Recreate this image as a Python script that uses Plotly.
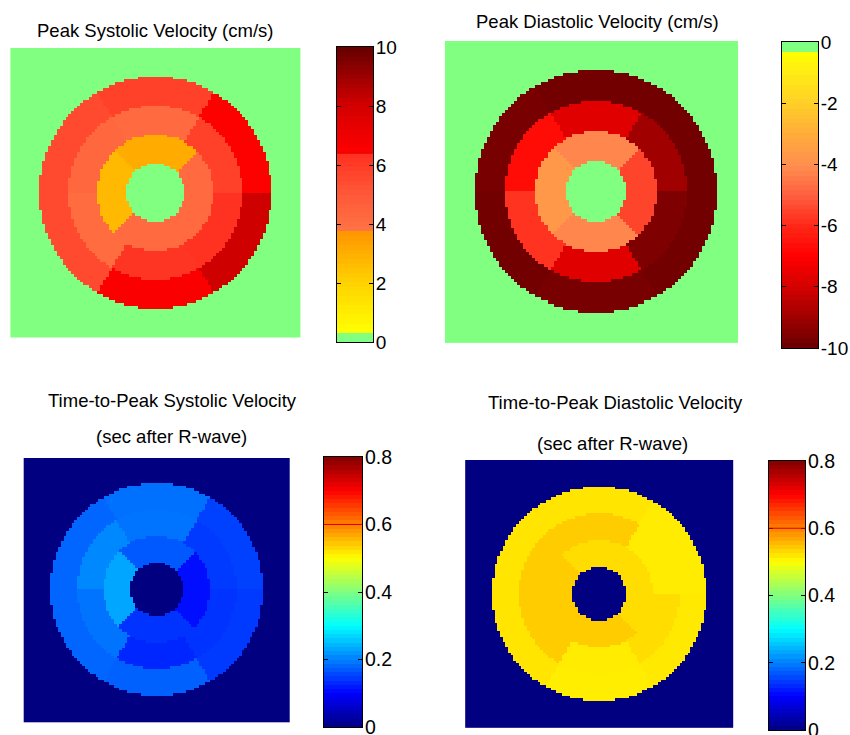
import numpy as np
import plotly.graph_objects as go

W, H = 850, 735

# ---------------- data (AHA 16-segment bullseye values) ----------------
# 6-sector rings ordered counter-clockwise from the right:
#   [0-60deg, 60-120deg, 120-180deg, 180-240deg, 240-300deg, 300-360deg]
# 4-sector apical ring ordered: [right, top, left, bottom]
titles = [
    ["Peak Systolic Velocity (cm/s)"],
    ["Peak Diastolic Velocity (cm/s)"],
    ["Time-to-Peak Systolic Velocity", "(sec after R-wave)"],
    ["Time-to-Peak Diastolic Velocity", "(sec after R-wave)"],
]

ps_basal = [6.5, 5.8, 5.5, 5.5, 6.6, 8.1]
ps_mid = [5.8, 4.2, 4.3, 4.1, 6.2, 6.35]
ps_apical = [4.2, 3.1, 2.7, 4.2]

pd_basal = [-9.8, -9.8, -9.7, -9.8, -9.7, -9.8]
pd_mid = [-9.0, -7.7, -6.7, -5.8, -7.7, -9.6]
pd_apical = [-5.5, -4.2, -3.7, -4.2]

tps_basal = [0.15, 0.188, 0.18, 0.18, 0.176, 0.145]
tps_mid = [0.145, 0.19, 0.207, 0.19, 0.13, 0.14]
tps_apical = [0.11, 0.17, 0.23, 0.14]

tpd_basal = [0.515, 0.52, 0.52, 0.52, 0.513, 0.517]
tpd_mid = [0.515, 0.54, 0.54, 0.54, 0.515, 0.527]
tpd_apical = [0.527, 0.527, 0.54, 0.54]

backgrounds = [0, 0, 0, 0]
cb_ranges = [(0, 10), (-10, 0), (0, 0.8), (0, 0.8)]
cb_ticks = [[0, 2, 4, 6, 8, 10], [-10, -8, -6, -4, -2, 0],
            [0, 0.2, 0.4, 0.6, 0.8], [0, 0.2, 0.4, 0.6, 0.8]]
cb_ticktext = [["0", "2", "4", "6", "8", "10"], ["-10", "-8", "-6", "-4", "-2", "0"],
               ["0", "0.2", "0.4", "0.6", "0.8"], ["0", "0.2", "0.4", "0.6", "0.8"]]
cb_marks = [6.4, None, 0.6, 0.6]

# ---------------- colour maps ----------------
def scale_from_values(stops, vmin, vmax):
    return [[(v - vmin) / (vmax - vmin), c] for v, c in stops]

cmap_sys = scale_from_values([
    (0, "#80FF80"), (0.34, "#80FF80"), (0.35, "#FFFF00"), (2.0, "#FFD200"),
    (3.7, "#FF9600"), (3.72, "#FF7444"), (5.0, "#FF5838"), (6.38, "#FF3020"),
    (6.42, "#FF0000"), (8.0, "#D40000"), (10, "#640000")], 0, 10)
cmap_dia = scale_from_values([
    (-10, "#680000"), (-9, "#A00000"), (-8, "#D40000"), (-7, "#FF0000"),
    (-6, "#FF2818"), (-5, "#FF6040"), (-4, "#FF9050"), (-3, "#FFAC38"),
    (-2, "#FFD028"), (-1, "#FFEC14"), (-0.31, "#FFFF00"), (-0.3, "#80FF80"),
    (0, "#80FF80")], -10, 0)
jet = [[0, "rgb(0,0,128)"], [0.125, "rgb(0,0,255)"], [0.375, "rgb(0,255,255)"],
       [0.625, "rgb(255,255,0)"], [0.875, "rgb(255,0,0)"], [1, "rgb(128,0,0)"]]
cmaps = [cmap_sys, cmap_dia, jet, jet]

# ---------------- bullseye geometry ----------------
N = 100
coords = np.arange(N) - (N - 1) / 2.0
ring_r = [10, 20, 30, 40]


def bullseye(basal, mid, apical, bg):
    X, Y = np.meshgrid(coords, coords)
    R = np.hypot(X, Y)
    A = np.degrees(np.arctan2(Y, X)) % 360
    six = (A // 60).astype(int) % 6
    four = (((A + 45) % 360) // 90).astype(int) % 4
    Z = np.full(R.shape, float(bg))
    m = (R >= ring_r[0]) & (R < ring_r[1])
    Z[m] = np.asarray(apical)[four[m]]
    m = (R >= ring_r[1]) & (R < ring_r[2])
    Z[m] = np.asarray(mid)[six[m]]
    m = (R >= ring_r[2]) & (R < ring_r[3])
    Z[m] = np.asarray(basal)[six[m]]
    return Z


panels = [
    bullseye(ps_basal, ps_mid, ps_apical, backgrounds[0]),
    bullseye(pd_basal, pd_mid, pd_apical, backgrounds[1]),
    bullseye(tps_basal, tps_mid, tps_apical, backgrounds[2]),
    bullseye(tpd_basal, tpd_mid, tpd_apical, backgrounds[3]),
]

# ---------------- layout geometry (pixels) ----------------
img_boxes = [(9, 48, 301, 339), (445, 41, 738, 345), (23, 458, 292, 724), (464, 460, 736, 729)]
img_centres = [(155.4, 192.5, 2.9), (596, 191.4, 3.03), (156.7, 589.3, 2.66), (599.2, 593.8, 2.68)]
cb_boxes = [(337, 47, 373, 342), (782, 42, 818, 348), (324, 457, 362, 727), (769, 461, 805, 730)]
title_pos = [[(155, 30)], [(597, 22)], [(172, 400), (171, 437)], [(615, 402), (612, 443)]]
tick_sizes = [19, 19, 19.5, 19.5]


def xdom(l, r):
    return [l / W, r / W]


def ydom(t, b):
    return [1 - b / H, 1 - t / H]


fig = go.Figure()
layout = dict(
    width=W, height=H, autosize=False, margin=dict(l=0, r=0, t=0, b=0, pad=0, autoexpand=False),
    paper_bgcolor="white", plot_bgcolor="white", showlegend=False,
    font=dict(family="Arial, Liberation Sans, sans-serif", color="black"),
)
shapes = []
annotations = []

for i in range(4):
    ax = 2 * i + 1
    cax = 2 * i + 2
    zmin, zmax = cb_ranges[i]
    fig.add_trace(go.Heatmap(
        z=panels[i], x=coords, y=coords, colorscale=cmaps[i], zmin=zmin, zmax=zmax,
        showscale=False, xaxis=f"x{ax}", yaxis=f"y{ax}", hoverinfo="skip"))
    l, t, r, b = img_boxes[i]
    cx, cy, s = img_centres[i]
    layout[f"xaxis{ax}"] = dict(domain=xdom(l, r), range=[(l - cx) / s, (r - cx) / s],
                                visible=False, anchor=f"y{ax}", automargin=False)
    layout[f"yaxis{ax}"] = dict(domain=ydom(t, b), range=[-(b - cy) / s, (cy - t) / s],
                                visible=False, anchor=f"x{ax}", automargin=False)

    edges = np.linspace(zmin, zmax, 65)
    centres = (edges[:-1] + edges[1:]) / 2
    fig.add_trace(go.Heatmap(
        z=centres.reshape(-1, 1), x=[0, 1], y=edges, colorscale=cmaps[i],
        zmin=zmin, zmax=zmax, showscale=False, xaxis=f"x{cax}", yaxis=f"y{cax}",
        hoverinfo="skip"))
    l, t, r, b = cb_boxes[i]
    layout[f"xaxis{cax}"] = dict(domain=xdom(l, r), range=[0, 1], showticklabels=False,
                                 ticks="", showgrid=False, zeroline=False, showline=True,
                                 linecolor="black", linewidth=1, mirror=True,
                                 anchor=f"y{cax}", automargin=False)
    layout[f"yaxis{cax}"] = dict(domain=ydom(t, b), range=[zmin, zmax], side="right",
                                 tickvals=cb_ticks[i], ticktext=cb_ticktext[i],
                                 ticks="inside", ticklen=4, tickcolor="black",
                                 ticklabeloverflow="allow", ticklabelstandoff=-2,
                                 showgrid=False, zeroline=False, showline=True,
                                 linecolor="black", linewidth=1, mirror="ticks",
                                 tickfont=dict(size=tick_sizes[i], color="black"),
                                 anchor=f"x{cax}", automargin=False)
    if cb_marks[i] is not None:
        shapes.append(dict(type="line", xref=f"x{cax} domain", yref=f"y{cax}",
                           x0=0, x1=1, y0=cb_marks[i], y1=cb_marks[i],
                           line=dict(color="#E00000", width=1)))

    for line, (tx, ty) in zip(titles[i], title_pos[i]):
        annotations.append(dict(text=line, x=tx / W, y=1 - ty / H, xref="paper",
                                yref="paper", showarrow=False, xanchor="center",
                                yanchor="middle", font=dict(size=18.5, color="black")))

layout["shapes"] = shapes
layout["annotations"] = annotations
fig.update_layout(**layout)
fig.write_html("out.html",
               config={"displayModeBar": False, "responsive": False},
               post_script="document.body.style.margin='0';document.body.style.padding='0';")
